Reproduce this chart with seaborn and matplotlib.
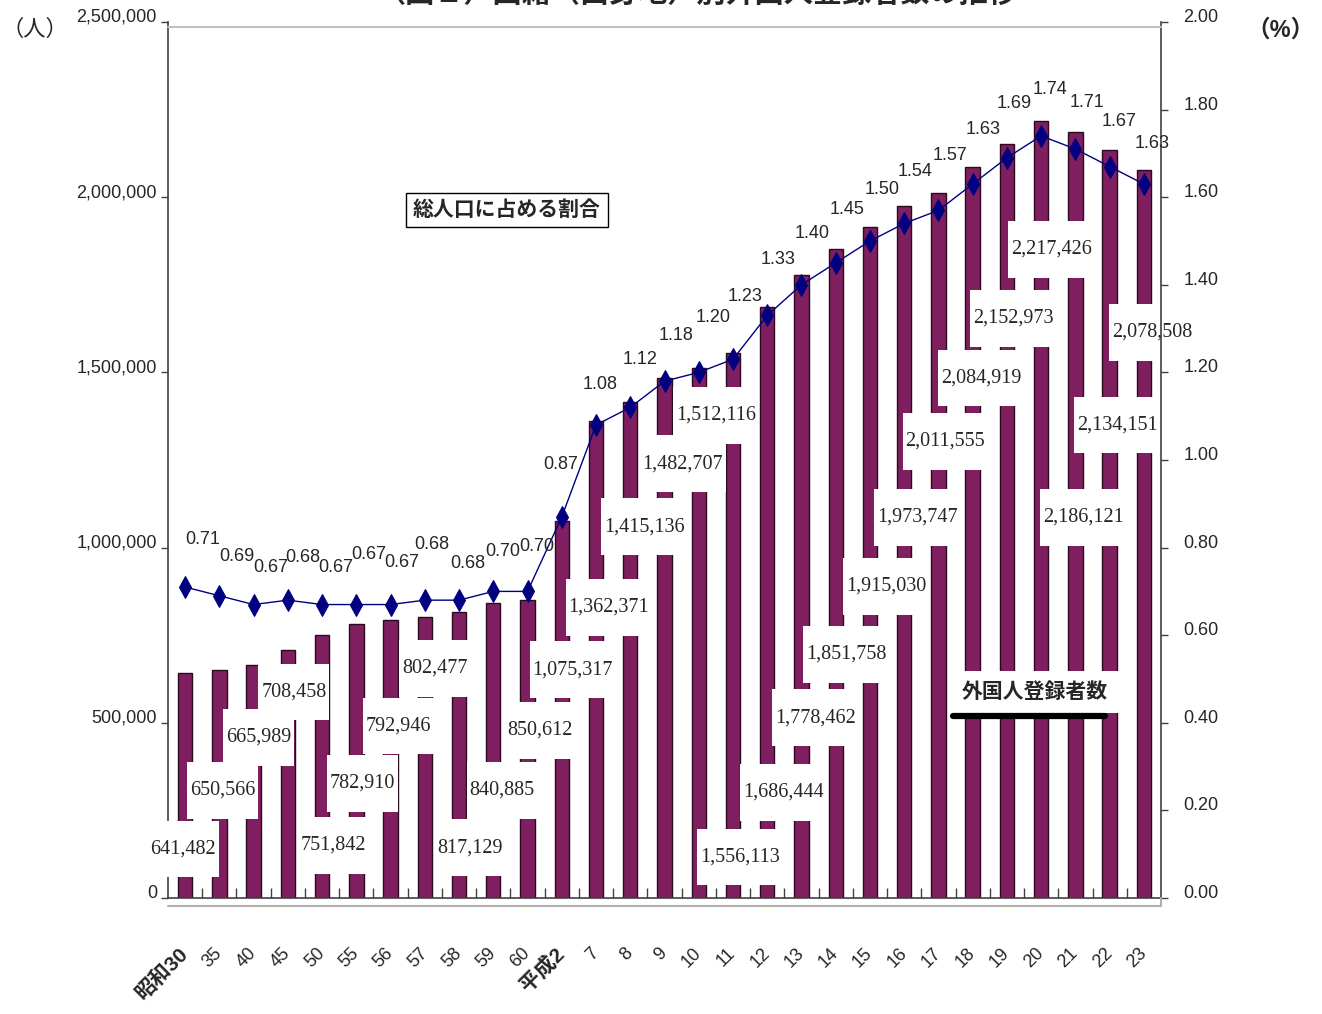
import numpy as np
import pandas as pd
import matplotlib
matplotlib.use("Agg")
import matplotlib.pyplot as plt
from matplotlib.lines import Line2D
from matplotlib.ticker import FuncFormatter, FixedLocator
import seaborn as sns

# --- data ---
years = ["昭和30", "35", "40", "45", "50", "55", "56", "57", "58", "59", "60",
         "平成2", "7", "8", "9", "10", "11", "12", "13", "14", "15", "16", "17",
         "18", "19", "20", "21", "22", "23"]
registered = [641482, 650566, 665989, 708458, 751842, 782910, 792946, 802477,
              817129, 840885, 850612, 1075317, 1362371, 1415136, 1482707,
              1512116, 1556113, 1686444, 1778462, 1851758, 1915030, 1973747,
              2011555, 2084919, 2152973, 2217426, 2186121, 2134151, 2078508]
share_pct = [0.71, 0.69, 0.67, 0.68, 0.67, 0.67, 0.67, 0.68, 0.68, 0.70, 0.70,
             0.87, 1.08, 1.12, 1.18, 1.20, 1.23, 1.33, 1.40, 1.45, 1.50, 1.54,
             1.57, 1.63, 1.69, 1.74, 1.71, 1.67, 1.63]

# label layout (Excel staggered the boxed counts so they don't collide)
count_label_y = [140, 308, 459, 588, 151, 328, 491, 656, 143, 308, 479, 651,
                 830, 1059, 1239, 1378, 117, 302, 514, 696, 890, 1087, 1304,
                 1484, 1655, 1852, 1087, 1350, 1615]  # thousands
count_label_dx = [-2, 3, 5, 6, 11, 6, 8, 10, 11, 9, 12, 11, 13, 14, 18, 17,
                  7, 16, 14, 11, 16, 13, 7, 9, 6, 10, 8, 8, 8]  # px
pct_label_dx = [18, 18, 17, 15, 14, 12, 11, 7, 9, 9, 9, -1, 4, 10, 12, 14,
                12, 11, 11, 11, 12, 11, 12, 10, 7, 9, 12, 9, 8]
pct_label_dy = [48, 39, 37, 43, 37, 50, 42, 56, 37, 40, 45, 52, 40, 48, 46,
                55, 63, 56, 51, 53, 51, 52, 55, 55, 54, 46, 47, 45, 41]

BAR = "#7f1f5f"
NAVY = "#000080"
W, H = 1322, 1014

sns.set_style("white")
plt.rcParams["font.family"] = ["Liberation Sans", "Noto Sans CJK JP"]

df = pd.DataFrame({"year": years, "registered": registered})
n = len(years)

fig = plt.figure(figsize=(W / 100, H / 100), dpi=100)
ax = fig.add_axes([168 / W, 1 - 898 / H, (1161 - 168) / W, (898 - 22) / H])

sns.barplot(data=df, x="year", y="registered", order=years, color=BAR,
            saturation=1, width=0.42, edgecolor="#2a0a20", linewidth=1, ax=ax)
ax.set_xlim(-0.5, n - 0.5)
ax.set_ylim(0, 2500000)
ax.set_yticks(np.arange(0, 2500001, 500000))
ax.yaxis.set_major_formatter(FuncFormatter(lambda v, p: f"{int(v):,}"))
ax.set_xlabel("")
ax.set_ylabel("")

# boxed count labels
for i, v in enumerate(registered):
    ax.text(i + count_label_dx[i] / 34.25, count_label_y[i] * 1000,
            "\n" + f"{v:,}" + "\n", ha="center", va="center",
            family="Liberation Serif", fontsize=14.5, linespacing=0.78,
            bbox=dict(boxstyle="square,pad=0.15", fc="white", ec="none"),
            zorder=5)

# share of total population line
ax2 = ax.twinx()
sns.lineplot(x=np.arange(n), y=share_pct, ax=ax2, color=NAVY, lw=1,
             marker="d", markersize=11, markeredgecolor=NAVY, zorder=6)
ax2.set_ylim(0, 2.0)
ax2.set_yticks(np.arange(0, 2.01, 0.2))
ax2.yaxis.set_major_formatter(FuncFormatter(lambda v, p: f"{v:.2f}"))
ax2.set_xlim(-0.5, n - 0.5)
for i, v in enumerate(share_pct):
    ax2.annotate(f"{v:.2f}", (i, v), xytext=(pct_label_dx[i], pct_label_dy[i]),
                 textcoords="offset pixels", ha="center", va="center",
                 fontsize=13, family=["Liberation Sans"], zorder=7)

# axes cosmetics
for a in (ax, ax2):
    a.spines["top"].set_visible(False)
ax.spines["right"].set_visible(False)
ax2.spines["left"].set_visible(False)
ax2.spines["bottom"].set_visible(False)
for s in ("left", "bottom"):
    ax.spines[s].set_color("#404040")
    ax.spines[s].set_linewidth(1.2)
ax2.spines["right"].set_color("#404040")
ax2.spines["right"].set_linewidth(1.2)

ax.tick_params(axis="y", direction="out", length=5, width=1, color="#404040",
               labelsize=13, pad=3, left=True)
ax2.tick_params(axis="y", direction="out", length=5, width=1, color="#404040",
                labelsize=13, pad=11, right=True)
plt.setp(ax.get_yticklabels(), va="baseline")
plt.setp(ax2.get_yticklabels(), va="baseline")

ax.xaxis.set_minor_locator(FixedLocator(np.arange(0.5, n - 1, 1.0)))
ax.tick_params(axis="x", which="major", length=0, pad=38, labelsize=13)
ax.tick_params(axis="x", which="minor", direction="in", length=7, width=1,
               color="#404040", bottom=True)
ax.set_xticks(np.arange(n))
ax.set_xticklabels(years, rotation=45, ha="right", va="center",
                   rotation_mode="anchor")
for t in ax.get_xticklabels():
    if not t.get_text().isdigit():
        t.set_fontweight("bold")
        t.set_fontsize(15)

# light grey plot-area frame
fig.add_artist(Line2D([168 / W, 1161 / W], [1 - 27 / H, 1 - 27 / H],
                      color="#c0c0c0", lw=1.5))
fig.add_artist(Line2D([168 / W, 1161 / W, 1161 / W],
                      [1 - 906 / H, 1 - 906 / H, 1 - 898 / H],
                      color="#b0b0b0", lw=1.5))

# unit labels
fig.text(35 / W, 1 - 30 / H, "（人）", ha="center", va="center", fontsize=16)
fig.text(1280 / W, 1 - 30 / H, "（%）", ha="center", va="center", fontsize=17,
         fontweight="bold")

# title (cut off by the top edge in the original)
fig.text(697 / W, 1 - 8 / H, "（図１）国籍（出身地）別外国人登録者数の推移",
         ha="center", va="bottom", fontsize=21, fontweight="bold")

# series captions
fig.text(507 / W, 1 - 210 / H, "総人口に占める割合", ha="center", va="center",
         fontsize=15, fontweight="bold", zorder=10,
         bbox=dict(boxstyle="square,pad=0.35", fc="white", ec="black", lw=1))
fig.text(1035 / W, 1 - 692 / H, "外国人登録者数", ha="center", va="center",
         fontsize=15, fontweight="bold", zorder=10,
         bbox=dict(boxstyle="square,pad=0.55", fc="white", ec="none"))
fig.add_artist(Line2D([953 / W, 1105 / W], [1 - 716 / H, 1 - 716 / H],
                      color="black", lw=4.5, zorder=11))

fig.savefig("out.png", dpi=100)
